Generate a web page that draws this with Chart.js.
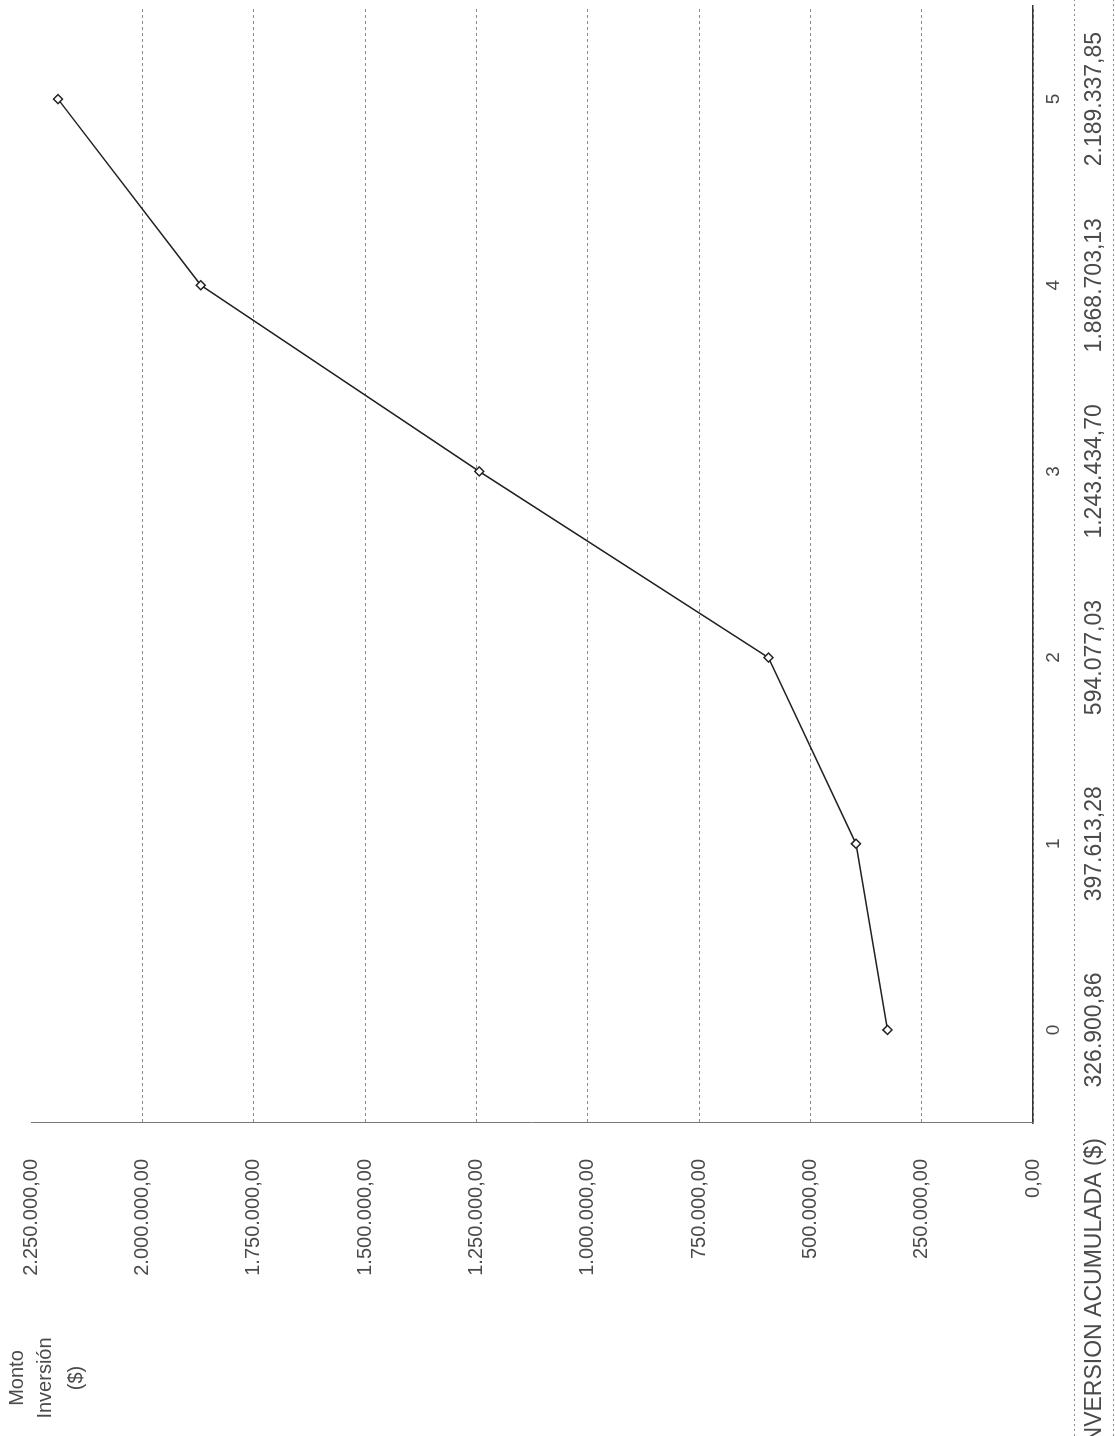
<!DOCTYPE html>
<html>
<head>
<meta charset="utf-8">
<script src="https://cdn.jsdelivr.net/npm/chart.js@4.4.1/dist/chart.umd.min.js"></script>
<style>
  html, body { margin: 0; padding: 0; background: #fff; overflow: hidden; }
  /* the chart is drawn upright, then turned a quarter left like the scanned page */
  #wrap {
    position: absolute; left: 0; top: 0;
    width: 1436px; height: 1115px;
    transform-origin: 0 0;
    transform: translate(0, 1436px) rotate(-90deg);
  }
</style>
</head>
<body>
<div id="wrap"><canvas id="chart" width="1436" height="1115"></canvas></div>
<script>
const years = ['0', '1', '2', '3', '4', '5'];
const inversionAcumulada = [326900.86, 397613.28, 594077.03, 1243434.70, 1868703.13, 2189337.85];
const yMin = 0;
const yMax = 2250000;
const yStep = 250000;
const axisTitle = ['Monto', 'Inversión', '($)'];
const rowLabel = 'INVERSION ACUMULADA ($)';

const FONT = '"Liberation Sans", Arial, sans-serif';
const INK = '#4a4a4a';

// 2189337.85 -> "2.189.337,85"
function fmt(v) {
    const parts = Number(v).toFixed(2).split('.');
    return parts[0].replace(/\B(?=(\d{3})+(?!\d))/g, '.') + ',' + parts[1];
}

// data table row under the axis + the value axis title
const tablePlugin = {
    id: 'tablePlugin',
    afterDraw(chart) {
        const ctx = chart.ctx;
        const xScale = chart.scales.x;
        ctx.save();

        ctx.strokeStyle = '#888';
        ctx.lineWidth = 1;
        ctx.setLineDash([2, 3]);
        [1074, 1113].forEach(y => {
            ctx.beginPath();
            ctx.moveTo(0, y + 0.5);
            ctx.lineTo(chart.width, y + 0.5);
            ctx.stroke();
        });
        ctx.setLineDash([]);

        ctx.fillStyle = INK;
        ctx.textBaseline = 'middle';
        ctx.font = '23px ' + FONT;
        ctx.textAlign = 'center';
        inversionAcumulada.forEach((v, i) => {
            ctx.fillText(fmt(v), xScale.getPixelForValue(i), 1095);
        });

        ctx.font = '23px ' + FONT;
        ctx.textAlign = 'right';
        ctx.fillText(rowLabel, 298, 1095);

        ctx.font = '20px ' + FONT;
        ctx.textAlign = 'center';
        [17, 45, 76].forEach((y, i) => ctx.fillText(axisTitle[i], 58, y));

        ctx.restore();
    }
};

const chart = new Chart(document.getElementById('chart'), {
    type: 'line',
    data: {
        labels: years,
        datasets: [{
            data: inversionAcumulada,
            borderColor: '#222',
            borderWidth: 1.5,
            tension: 0,
            pointStyle: 'rectRot',
            pointRadius: 4.5,
            pointBackgroundColor: '#fff',
            pointBorderColor: '#222',
            pointBorderWidth: 1.5
        }]
    },
    options: {
        responsive: false,
        animation: false,
        layout: { padding: { top: 31, right: 4, left: 0, bottom: 0 } },
        plugins: {
            legend: { display: false },
            tooltip: { enabled: false }
        },
        scales: {
            x: {
                offset: true,
                grid: { display: false, drawTicks: false },
                border: { display: true, color: '#333', width: 1.5 },
                ticks: {
                    color: INK,
                    font: { family: FONT, size: 19 },
                    padding: 9,
                    maxRotation: 0
                },
                afterFit: (scale) => { scale.height = 82; }
            },
            y: {
                min: yMin,
                max: yMax,
                ticks: {
                    stepSize: yStep,
                    color: INK,
                    font: { family: FONT, size: 20 },
                    padding: 36,
                    callback: (value) => fmt(value)
                },
                grid: {
                    drawTicks: false,
                    lineWidth: 1,
                    color: (ctx) => (ctx.tick && ctx.tick.value === yMax) ? 'rgba(0,0,0,0)' : '#8a8a8a'
                },
                border: { display: true, color: '#777', width: 1, dash: [3, 3] },
                afterFit: (scale) => {
                    scale.width = 313;
                    // tick padding is meant sideways only, not above the top label
                    scale.paddingTop = 0;
                    scale.paddingBottom = 0;
                }
            }
        }
    },
    plugins: [tablePlugin]
});
</script>
</body>
</html>
